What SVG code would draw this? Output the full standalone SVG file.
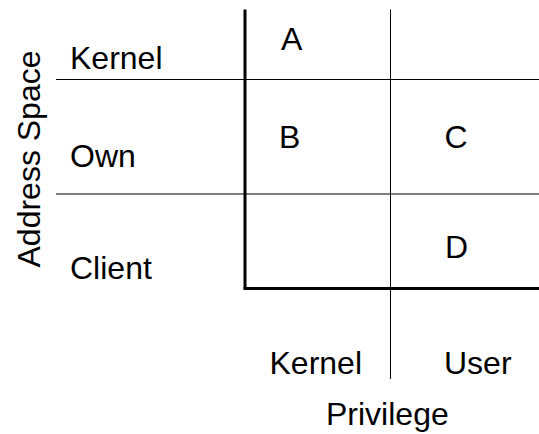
<svg xmlns="http://www.w3.org/2000/svg" width="539" height="434" viewBox="0 0 539 434">
  <style>
    text { font-family: "Liberation Sans", Arial, Helvetica, sans-serif; font-size: 32px; fill: #000; }
    .thin { stroke: #000; stroke-width: 1; fill: none; }
    .thick { stroke: #000; stroke-width: 3; fill: none; }
  </style>
  <rect width="539" height="434" fill="#fff"/>
  <g id="grid">
    <line class="thin" x1="56" y1="79.5" x2="539" y2="79.5"/>
    <line class="thin" x1="56" y1="194" x2="539" y2="194"/>
    <line class="thin" x1="390.5" y1="9.5" x2="390.5" y2="379"/>
    <line class="thick" x1="245" y1="9.5" x2="245" y2="288.5"/>
    <line class="thick" x1="243.5" y1="288.5" x2="539" y2="288.5"/>
  </g>
  <g id="row-labels">
    <text x="70" y="69">Kernel</text>
    <text x="70" y="167">Own</text>
    <text x="70" y="279">Client</text>
  </g>
  <g id="cells">
    <text id="cell-A" x="281" y="49.5">A</text>
    <text id="cell-B" x="279" y="148">B</text>
    <text id="cell-C" x="444.5" y="148">C</text>
    <text id="cell-D" x="445" y="258">D</text>
  </g>
  <g id="column-labels">
    <text x="269.5" y="374">Kernel</text>
    <text x="444" y="374">User</text>
  </g>
  <g id="axis-titles">
    <text x="326" y="425">Privilege</text>
    <text transform="translate(39.5,267.5) rotate(-90)">Address Space</text>
  </g>
</svg>
